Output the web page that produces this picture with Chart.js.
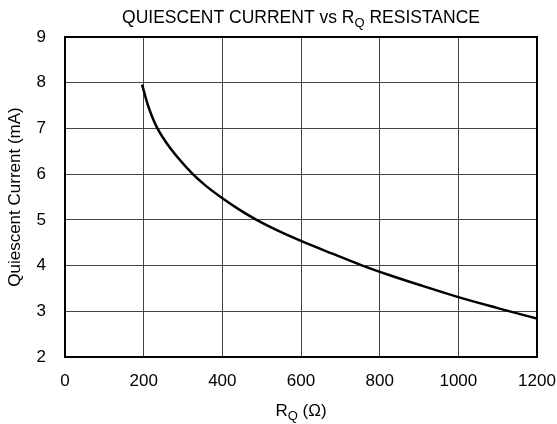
<!DOCTYPE html>
<html>
<head>
<meta charset="utf-8">
<script src="https://cdn.jsdelivr.net/npm/chart.js@4/dist/chart.umd.min.js"></script>
<style>
  html, body { margin: 0; padding: 0; background: #fff; }
  #wrap { width: 557px; height: 424px; }
</style>
</head>
<body>
<div id="wrap"><canvas id="chart" width="557" height="424"></canvas></div>
<script>
// R_Q resistance (ohm) vs quiescent current (mA)
var resistance = [196, 210, 220, 235, 260, 290, 325, 356, 394, 440, 487, 540, 600, 680, 756, 822, 900, 1000, 1100, 1200];
var current = [7.96, 7.53, 7.29, 7.0, 6.66, 6.33, 6.0, 5.76, 5.51, 5.24, 5.0, 4.77, 4.54, 4.26, 4.0, 3.80, 3.58, 3.31, 3.07, 2.84];

var xTicks = [0, 200, 400, 600, 800, 1000, 1200];
var yTicks = [2, 3, 4, 5, 6, 7, 8, 9];

var FONT = '"Liberation Sans", Arial, sans-serif';
var TXT = 17;

// draws text with a subscript part: parts = [[text, isSub], ...]
function drawSubText(ctx, parts, cx, y, size) {
    var subSize = Math.round(size * 0.75);
    var total = 0;
    parts.forEach(function(p) {
        ctx.font = (p[1] ? subSize : size) + 'px ' + FONT;
        total += ctx.measureText(p[0]).width;
    });
    var x = cx - total / 2;
    ctx.textAlign = 'left';
    ctx.textBaseline = 'alphabetic';
    parts.forEach(function(p) {
        ctx.font = (p[1] ? subSize : size) + 'px ' + FONT;
        ctx.fillText(p[0], x, p[1] ? y + 4 : y);
        x += ctx.measureText(p[0]).width;
    });
}

var decor = {
    id: 'decor',
    afterDraw: function(chart) {
        var ctx = chart.ctx;
        var a = chart.chartArea;
        ctx.save();
        ctx.strokeStyle = '#000';
        ctx.lineWidth = 2;
        ctx.strokeRect(a.left, a.top, a.right - a.left, a.bottom - a.top);
        ctx.fillStyle = '#000';
        var cx = (a.left + a.right) / 2;
        drawSubText(ctx, [['QUIESCENT CURRENT vs R', false], ['Q', true], [' RESISTANCE', false]], cx, 23, 17.5);
        drawSubText(ctx, [['R', false], ['Q', true], [' (\u03A9)', false]], cx, 416, TXT);
        ctx.restore();
    }
};

var data = resistance.map(function(r, i) { return { x: r, y: current[i] }; });

new Chart(document.getElementById('chart'), {
    type: 'scatter',
    data: {
        datasets: [{
            data: data,
            showLine: true,
            borderColor: '#000',
            borderWidth: 2.5,
            pointRadius: 0,
            cubicInterpolationMode: 'monotone'
        }]
    },
    options: {
        responsive: false,
        animation: false,
        layout: { padding: { left: 0, top: 37, right: 20, bottom: 0 } },
        plugins: { legend: { display: false }, tooltip: { enabled: false } },
        scales: {
            x: {
                type: 'linear',
                min: 0, max: 1200,
                afterBuildTicks: function(s) { s.ticks = xTicks.map(function(v) { return { value: v }; }); },
                afterFit: function(s) { s.height = 67; s.paddingLeft = 0; s.paddingRight = 0; },
                grid: { color: '#444', lineWidth: 1, drawTicks: false },
                border: { display: false },
                ticks: {
                    color: '#000', font: { family: FONT, size: TXT }, padding: 14, maxRotation: 0,
                    callback: function(v) { return String(v); }
                }
            },
            y: {
                type: 'linear',
                min: 2, max: 9,
                afterBuildTicks: function(s) { s.ticks = yTicks.map(function(v) { return { value: v }; }); },
                afterFit: function(s) { s.width = 65; s.paddingTop = 0; s.paddingBottom = 0; },
                grid: { color: '#444', lineWidth: 1, drawTicks: false },
                border: { display: false },
                ticks: { color: '#000', font: { family: FONT, size: TXT }, padding: 19 },
                title: {
                    display: true,
                    text: 'Quiescent Current (mA)',
                    color: '#000',
                    font: { family: FONT, size: TXT },
                    padding: { top: 5, bottom: 0 }
                }
            }
        }
    },
    plugins: [decor]
});
</script>
</body>
</html>
